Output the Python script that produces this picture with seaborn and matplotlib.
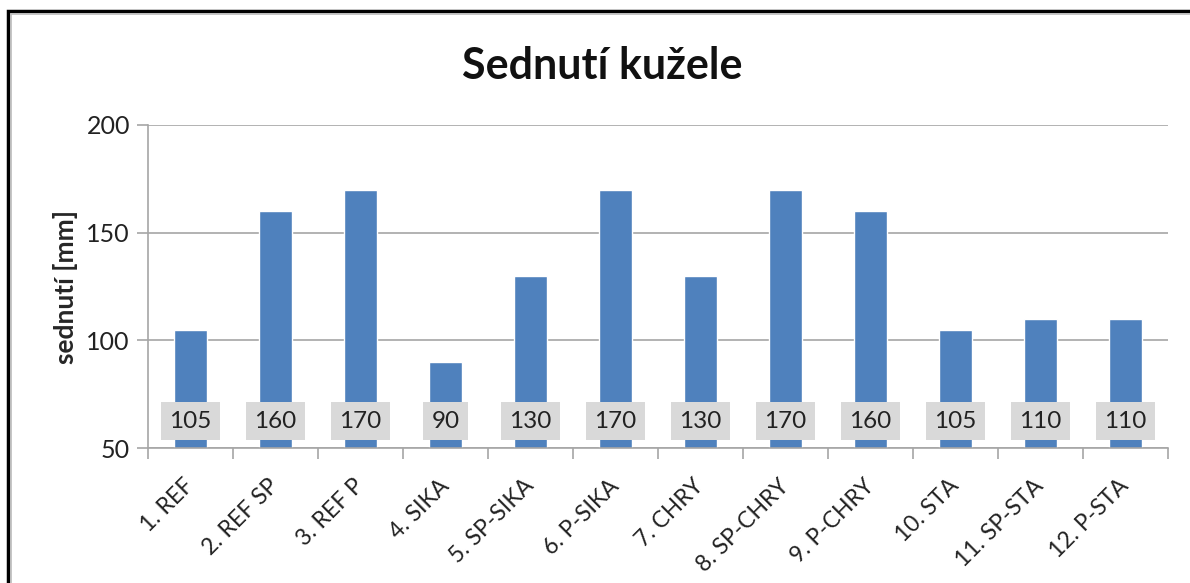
import matplotlib
matplotlib.use("Agg")
import matplotlib.pyplot as plt
import seaborn as sns
import pandas as pd
import numpy as np
from matplotlib.patches import Rectangle

categories = ["1. REF", "2. REF SP", "3. REF P", "4. SIKA", "5. SP-SIKA", "6. P-SIKA",
              "7. CHRY", "8. SP-CHRY", "9. P-CHRY", "10. STA", "11. SP-STA", "12. P-STA"]
values = [105, 160, 170, 90, 130, 170, 130, 170, 160, 105, 110, 110]
yticks = [50, 100, 150, 200]

sns.set_style("white")
plt.rcParams['font.family'] = ['Lato', 'DejaVu Sans']

df = pd.DataFrame({"kategorie": categories, "sednuti": values})

fig = plt.figure(figsize=(11.9, 5.83), dpi=100)
ax = fig.add_axes([148 / 1190, 1 - 448 / 583, 1020 / 1190, 323 / 583])

sns.barplot(data=df, x="kategorie", y="sednuti", color="#4F81BD", width=0.39,
            saturation=1, ax=ax, zorder=2)

ax.set_ylim(50, 200)
ax.set_xlim(-0.5, len(categories) - 0.5)
ax.set_yticks(yticks)
ax.yaxis.grid(True, color="#A6A6A6", linewidth=1.2, zorder=0)
ax.set_axisbelow(True)

for s in ["top", "right"]:
    ax.spines[s].set_visible(False)
for s in ["left", "bottom"]:
    ax.spines[s].set_color("#A6A6A6")
    ax.spines[s].set_linewidth(1.2)

ax.tick_params(axis="y", which="major", length=8, color="#A6A6A6", width=1.2,
               labelsize=18, labelcolor="#222222", pad=5, left=True)
ax.set_xticks(np.arange(len(categories)))
ax.tick_params(axis="x", which="major", length=0, pad=25)
ax.set_xticklabels(categories, rotation=45, ha="right", va="center",
                   rotation_mode="anchor", fontsize=16.5, color="#222222")
ax.set_xticks(np.arange(-0.5, len(categories), 1), minor=True)
ax.tick_params(axis="x", which="minor", length=8, color="#A6A6A6", width=1.2, bottom=True)

ax.set_xlabel("")
ax.set_ylabel("sednutí [mm]", fontsize=19, fontweight="bold", labelpad=6)

for i, v in enumerate(values):
    ax.text(i, 62.5, str(v), ha="center", va="center", fontsize=17.5, color="#222222",
            zorder=4, bbox=dict(boxstyle="square,pad=0.36", facecolor="#D9D9D9",
                                edgecolor="none"))

fig.text(602 / 1190, 1 - 66 / 583, "Sednutí kužele", ha="center", va="center",
         fontsize=31, fontweight="bold", color="#111111")

# outer frame of the chart (cut off at right and bottom)
fig.patches.append(Rectangle((8 / 1190, -0.1), 1.2, 1 - 11 / 583 + 0.1,
                             transform=fig.transFigure, fill=False,
                             edgecolor="black", linewidth=2.5))
fig.patches.append(Rectangle((11 / 1190, -0.1), 1.2, 1 - 14 / 583 + 0.1,
                             transform=fig.transFigure, fill=False,
                             edgecolor="#BBBBBB", linewidth=1.2))

fig.savefig("out.png", dpi=100)
